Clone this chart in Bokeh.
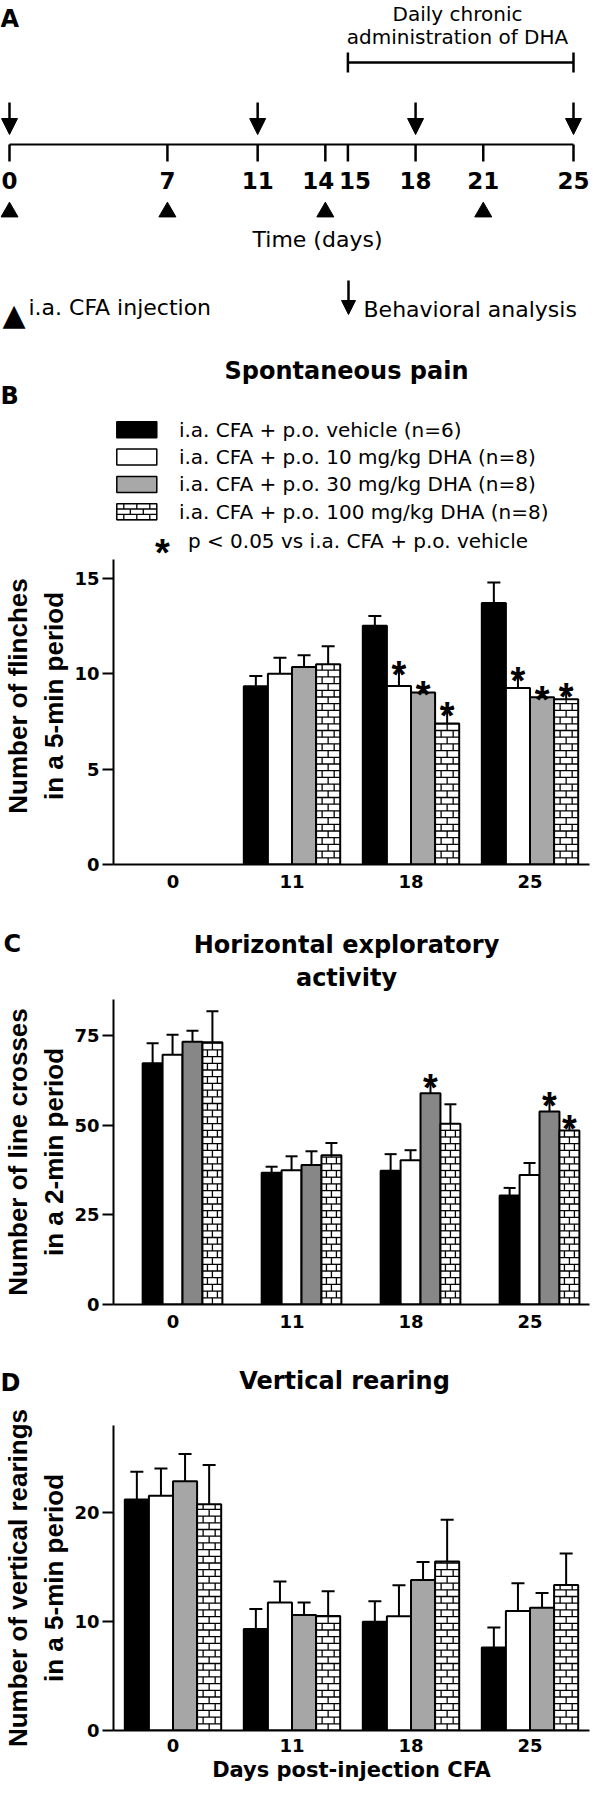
import numpy as np
from bokeh.plotting import figure
from bokeh.models import (ColumnDataSource, FactorRange, Range1d, FixedTicker, Label,
                          Whisker, TeeHead, Arrow, NormalHead)
from bokeh.transform import dodge
from bokeh.layouts import column
from bokeh.core.properties import value
from bokeh.embed import file_html
from bokeh.resources import INLINE

NaN = float("nan")

# ---------------- Panel A: experimental timeline (days) ----------------
timeline_days = [0, 7, 11, 14, 15, 18, 21, 25]
cfa_injection_days = [0, 7, 14, 21]
behavior_days = [0, 11, 18, 25]
dha_period = [15, 25]

# ---------------- Panels B-D ----------------
days = ["0", "11", "18", "25"]
series = ["i.a. CFA + p.o. vehicle (n=6)",
          "i.a. CFA + p.o. 10 mg/kg DHA (n=8)",
          "i.a. CFA + p.o. 30 mg/kg DHA (n=8)",
          "i.a. CFA + p.o. 100 mg/kg DHA (n=8)"]
sig_note = "p < 0.05 vs i.a. CFA + p.o. vehicle"

# B: spontaneous pain (flinches / 5 min), mean and SEM
flinch_vehicle = [NaN, 9.35, 12.52, 13.72]
flinch_dha10 = [NaN, 10.01, 9.36, 9.26]
flinch_dha30 = [NaN, 10.36, 9.02, 8.77]
flinch_dha100 = [NaN, 10.50, 7.40, 8.67]
flinch_vehicle_sem = [NaN, 0.54, 0.52, 1.07]
flinch_dha10_sem = [NaN, 0.84, 0.97, 0.78]
flinch_dha30_sem = [NaN, 0.62, 0.26, 0.25]
flinch_dha100_sem = [NaN, 0.95, 0.76, 0.49]
flinch_sig_dha10 = [0, 0, 1, 1]
flinch_sig_dha30 = [0, 0, 1, 1]
flinch_sig_dha100 = [0, 0, 1, 1]

# C: horizontal exploratory activity (line crosses / 2 min)
cross_vehicle = [67.2, 36.7, 37.3, 30.4]
cross_dha10 = [69.6, 37.4, 40.2, 36.1]
cross_dha30 = [73.2, 38.9, 58.9, 53.8]
cross_dha100 = [73.1, 41.6, 50.4, 48.5]
cross_vehicle_sem = [5.6, 1.7, 4.6, 2.1]
cross_dha10_sem = [5.6, 3.9, 2.8, 3.3]
cross_dha30_sem = [3.1, 3.8, 3.6, 3.5]
cross_dha100_sem = [8.6, 3.4, 5.4, 2.5]
cross_sig_dha30 = [0, 0, 1, 1]
cross_sig_dha100 = [0, 0, 0, 1]

# D: vertical rearing (rearings / 5 min)
rear_vehicle = [21.2, 9.31, 9.98, 7.62]
rear_dha10 = [21.54, 11.74, 10.48, 10.97]
rear_dha30 = [22.89, 10.60, 13.82, 11.27]
rear_dha100 = [20.77, 10.51, 15.51, 13.36]
rear_vehicle_sem = [2.55, 1.84, 1.88, 1.84]
rear_dha10_sem = [2.51, 1.93, 2.85, 2.55]
rear_dha30_sem = [2.49, 1.14, 1.66, 1.36]
rear_dha100_sem = [3.60, 2.27, 3.84, 2.89]

# ---------------- styles / layout ----------------
W = 590
MARGIN = 8
FRAME_LEFT = 104
DJ = "DejaVu Sans"
LIB = "Liberation Sans"
BRICK_ROW_PX = 6.7
BRICK_LW = 1.3


def brick_segments(xl, xr, y_bottom, y_top, row_h, brick_w, edge_tol):
    """Running-bond brick outline inside the box [xl, xr] x [y_bottom, y_top]."""
    x0, x1, y0, y1 = [], [], [], []
    xc = 0.5 * (xl + xr)
    n = int(np.ceil((y_top - y_bottom) / row_h - 1e-9))
    for j in range(n):
        ya = y_bottom + j * row_h
        yb = min(y_bottom + (j + 1) * row_h, y_top)
        if j > 0:
            x0.append(xl); x1.append(xr); y0.append(ya); y1.append(ya)
        phase = 0.0 if j % 2 == 0 else 0.5
        mmax = int(np.ceil((xr - xl) / brick_w)) + 1
        for m in range(-mmax, mmax + 1):
            xv = xc + (m + phase) * brick_w
            if xl + edge_tol < xv < xr - edge_tol:
                x0.append(xv); x1.append(xv); y0.append(ya); y1.append(yb)
    return dict(x0=x0, x1=x1, y0=y0, y1=y1)


def bar_styles(gray):
    return [dict(fill_color="black"), dict(fill_color="white"),
            dict(fill_color=gray), dict(fill_color="white")]


def make_header(top_ref, height):
    h = figure(width=W, height=height, x_range=Range1d(MARGIN, MARGIN + W),
               y_range=Range1d(top_ref + height, top_ref), x_axis_type=None, y_axis_type=None,
               output_backend="svg", toolbar_location=None, min_border=0, frame_align=False)
    h.outline_line_color = None
    h.grid.visible = False

    def lab(text, x, y, size="24px", font=DJ, style="bold", align="center", baseline="middle"):
        h.add_layout(Label(x=x, y=y, text=text, text_font=font, text_font_style=style,
                           text_font_size=size, text_align=align, text_baseline=baseline,
                           text_color="black"))
    return h, lab


def make_bar_panel(top_ref, height, frame_top, frame_bottom, y_max, y_ticks, y_title,
                   means, sems, sigs, bar_w, shift, gray, cap, x_standoff=10, x_title=None,
                   top_pad=0):
    frame_h = height - frame_top - frame_bottom
    ppu = (frame_h - top_pad) / y_max          # px per data unit
    p = figure(width=W, height=height,
               x_range=FactorRange(factors=days, range_padding=0),
               y_range=Range1d(0, y_max + top_pad / ppu),
               output_backend="svg", toolbar_location=None, frame_align=False,
               min_border_left=FRAME_LEFT, min_border_right=1,
               min_border_top=frame_top, min_border_bottom=frame_bottom)
    p.outline_line_color = None
    p.xgrid.visible = False
    p.ygrid.visible = False

    for ax in (p.xaxis, p.yaxis):
        ax.axis_line_width = 2
        ax.axis_line_color = "black"
        ax.major_label_text_font = DJ
        ax.major_label_text_font_style = "bold"
        ax.major_label_text_font_size = "18px"
        ax.major_label_text_color = "black"
        ax.minor_tick_line_color = None
    p.yaxis.bounds = (0, y_max)
    p.yaxis.ticker = FixedTicker(ticks=y_ticks)
    p.yaxis.major_tick_out = 11
    p.yaxis.major_tick_in = 0
    p.yaxis.major_tick_line_width = 2
    p.yaxis.major_tick_line_color = "black"
    p.yaxis.major_label_standoff = 3
    p.yaxis.axis_label = y_title
    p.yaxis.axis_label_text_font = LIB
    p.yaxis.axis_label_text_font_style = "bold"
    p.yaxis.axis_label_text_font_size = "26px"
    p.yaxis.axis_label_text_color = "black"
    p.yaxis.axis_label_standoff = 2
    p.xaxis.major_tick_line_color = None
    p.xaxis.major_tick_out = 0
    p.xaxis.major_tick_in = 0
    p.xaxis.major_label_standoff = x_standoff
    if x_title:
        p.xaxis.axis_label = x_title
        p.xaxis.axis_label_text_font = DJ
        p.xaxis.axis_label_text_font_style = "bold"
        p.xaxis.axis_label_text_font_size = "21px"
        p.xaxis.axis_label_text_color = "black"
        p.xaxis.axis_label_standoff = 3

    row_h = BRICK_ROW_PX / ppu

    for i, (m, s, sg, st) in enumerate(zip(means, sems, sigs, bar_styles(gray))):
        off = (i - 1.5) * bar_w + shift
        ok = [k for k in range(len(days)) if not np.isnan(m[k])]
        src = ColumnDataSource(dict(day=[days[k] for k in ok],
                                    mean=[m[k] for k in ok],
                                    upper=[m[k] + s[k] for k in ok]))
        p.vbar(x=dodge("day", off, range=p.x_range), top="mean", bottom=0, width=bar_w,
               source=src, line_color="black", line_width=2, **st)
        if i == 3:  # brick-patterned series
            segs = dict(x0=[], x1=[], y0=[], y1=[])
            for k in ok:
                xc = k + 0.5 + off  # synthetic coordinate of the factor + dodge
                b = brick_segments(xc - bar_w / 2, xc + bar_w / 2, 0, m[k], row_h, bar_w / 2,
                                   bar_w * 0.08)
                for key in segs:
                    segs[key].extend(b[key])
            p.segment(x0="x0", x1="x1", y0="y0", y1="y1", source=ColumnDataSource(segs),
                      line_color="black", line_width=BRICK_LW)
        p.add_layout(Whisker(base=dodge("day", off, range=p.x_range), upper="upper", lower="mean",
                             source=src, dimension="height", line_width=2, line_color="black",
                             upper_head=TeeHead(size=cap, line_width=2, line_color="black"),
                             lower_head=None))
        if sg is not None:
            sk = [k for k in range(len(days)) if sg[k]]
            ssrc = ColumnDataSource(dict(day=[days[k] for k in sk], y=[m[k] + s[k] for k in sk]))
            p.text(x=dodge("day", off, range=p.x_range), y="y", text=value("*"), source=ssrc,
                   text_font=value(LIB), text_font_style="bold", text_font_size="38px",
                   text_align="center", text_baseline="alphabetic", y_offset=7.5,
                   text_color="black")

    frame_left_ref = MARGIN + FRAME_LEFT
    frame_bottom_ref = top_ref + height - frame_bottom

    def lab(text, rx, ry, size="20px", font=DJ, style="normal", align="left", baseline="middle"):
        p.add_layout(Label(x=rx - frame_left_ref, y=frame_bottom_ref - ry,
                           x_units="screen", y_units="screen", text=text,
                           text_font=font, text_font_style=style, text_font_size=size,
                           text_align=align, text_baseline=baseline, text_color="black"))
    return p, lab


# ---------------- Panel A ----------------
A_TOP = MARGIN
HA = 332
A_X0 = 9.0             # screen px of day 0 inside the figure
A_PX_PER_DAY = 22.56
Y_BRACKET, Y_BRACKET_TOP, Y_BRACKET_BOT = 70, 60, 80
Y_ARROW_TOP, Y_ARROW_TIP = 110, 142
Y_LINE, Y_TICK_END = 152, 169
Y_DAYLAB = 188
Y_TRI = 219.5
DAY_LABEL_NUDGE = {14: -7, 15: 7}   # px, keeps the close 14/15 labels apart

pA = figure(width=W, height=HA,
            x_range=Range1d(-A_X0 / A_PX_PER_DAY, (W - A_X0) / A_PX_PER_DAY),
            y_range=Range1d(A_TOP + HA, A_TOP), x_axis_type=None, y_axis_type=None,
            output_backend="svg", toolbar_location=None, min_border=0, frame_align=False)
pA.outline_line_color = None
pA.grid.visible = False

pA.segment(x0=min(timeline_days), x1=max(timeline_days), y0=Y_LINE, y1=Y_LINE,
           line_width=2, line_color="black")
pA.segment(x0=timeline_days, x1=timeline_days, y0=[Y_LINE] * len(timeline_days),
           y1=[Y_TICK_END] * len(timeline_days), line_width=2.5, line_color="black")
pA.text(x="d", y="y", text="t", x_offset="dx",
        source=ColumnDataSource(dict(d=timeline_days, y=[Y_DAYLAB] * len(timeline_days),
                                     t=[str(d) for d in timeline_days],
                                     dx=[DAY_LABEL_NUDGE.get(d, 0) for d in timeline_days])),
        text_font=value(DJ), text_font_style="bold", text_font_size="23px",
        text_align="center", text_baseline="middle", text_color="black")
pA.scatter(x=cfa_injection_days, y=[Y_TRI] * len(cfa_injection_days), marker="triangle",
           size=17, fill_color="black", line_color="black")
pA.add_layout(Arrow(end=NormalHead(size=16, fill_color="black", line_color="black", line_width=1),
                    x_start="x", y_start="y0", x_end="x", y_end="y1",
                    line_width=2.5, line_color="black",
                    source=ColumnDataSource(dict(x=behavior_days,
                                                 y0=[Y_ARROW_TOP] * len(behavior_days),
                                                 y1=[Y_ARROW_TIP] * len(behavior_days)))))
pA.segment(x0=dha_period[0], x1=dha_period[1], y0=Y_BRACKET, y1=Y_BRACKET,
           line_width=2.5, line_color="black")
pA.segment(x0=dha_period, x1=dha_period, y0=[Y_BRACKET_TOP] * 2, y1=[Y_BRACKET_BOT] * 2,
           line_width=2.5, line_color="black")


def labA(text, rx, ry, size="22px", style="normal", align="center", baseline="middle"):
    pA.add_layout(Label(x=rx - MARGIN, y=ry, x_units="screen", y_units="data", text=text,
                        text_font=DJ, text_font_style=style, text_font_size=size,
                        text_align=align, text_baseline=baseline, text_color="black"))


labA("A", 8, 26, size="24px", style="bold", align="left")
labA("Daily chronic", 465, 21, size="20px")
labA("administration of DHA", 465, 44, size="20px")
labA("Time (days)", 325, 247, size="22px")
labA("\u25B2", 10, 322, size="30px", align="left", baseline="alphabetic")
labA("i.a. CFA injection", 36, 315, size="22px", align="left")
pA.add_layout(Arrow(end=NormalHead(size=14, fill_color="black", line_color="black", line_width=1),
                    x_start=356 - MARGIN, y_start=A_TOP + HA - 288,
                    x_end=356 - MARGIN, y_end=A_TOP + HA - 322,
                    start_units="screen", end_units="screen", line_width=2.5, line_color="black"))
labA("Behavioral analysis", 371, 317, size="22px", align="left")

# ---------------- Panel B ----------------
hB, labB = make_header(340, 195)
labB("Spontaneous pain", 354, 378)
labB("B", 8, 403, align="left")
LEG_X0, LEG_X1 = 124.3, 164.3
LEG_Y0, LEG_DY, LEG_H = 437.3, 27.3, 16
leg_y = [LEG_Y0 + i * LEG_DY for i in range(len(series))]
for i, (name, st) in enumerate(zip(series, bar_styles("#a8a8a8"))):
    hB.quad(left=LEG_X0, right=LEG_X1, top=leg_y[i] - LEG_H / 2, bottom=leg_y[i] + LEG_H / 2,
            line_color="black", line_width=1.5, **st)
    labB(name, 186.4, leg_y[i], size="20px", style="normal", align="left")
bl = brick_segments(LEG_X0, LEG_X1, leg_y[3] - LEG_H / 2, leg_y[3] + LEG_H / 2, 5.3, 13, 2)
hB.segment(x0="x0", x1="x1", y0="y0", y1="y1", source=ColumnDataSource(bl),
           line_color="black", line_width=BRICK_LW)

pB, labPB = make_bar_panel(
    535, 380, 0, 43, 16, [0, 5, 10, 15], "Number of flinches\nin a 5-min period",
    [flinch_vehicle, flinch_dha10, flinch_dha30, flinch_dha100],
    [flinch_vehicle_sem, flinch_dha10_sem, flinch_dha30_sem, flinch_dha100_sem],
    [None, flinch_sig_dha10, flinch_sig_dha30, flinch_sig_dha100],
    0.2025, 0.0, "#a8a8a8", 13, top_pad=32)
labPB("*", 161, 560, size="38px", font=LIB, style="bold", align="center")
labPB(sig_note, 186.4, 548.3)

# ---------------- Panel C ----------------
hC, labC = make_header(915, 87)
labC("Horizontal exploratory", 354, 952)
labC("activity", 354, 985)
labC("C", 11, 951, align="left")

pC, _ = make_bar_panel(
    1002, 348, 5, 38, 85, [0, 25, 50, 75], "Number of line crosses\nin a 2-min period",
    [cross_vehicle, cross_dha10, cross_dha30, cross_dha100],
    [cross_vehicle_sem, cross_dha10_sem, cross_dha30_sem, cross_dha100_sem],
    [None, None, cross_sig_dha30, cross_sig_dha100],
    0.1675, 0.08, "#878787", 12)

# ---------------- Panel D ----------------
hD, labD = make_header(1350, 56)
labD("Vertical rearing", 352, 1388)
labD("D", 8, 1390, align="left")

pD, _ = make_bar_panel(
    1406, 389, 27, 57, 28, [0, 10, 20], "Number of vertical rearings\nin a 5-min period",
    [rear_vehicle, rear_dha10, rear_dha30, rear_dha100],
    [rear_vehicle_sem, rear_dha10_sem, rear_dha30_sem, rear_dha100_sem],
    [None, None, None, None],
    0.2025, 0.0, "#a6a6a6", 13, x_standoff=8, x_title="Days post-injection CFA")

layout = column(pA, hB, pB, hC, pC, hD, pD)
open("out.html", "w").write(file_html(layout, INLINE))
